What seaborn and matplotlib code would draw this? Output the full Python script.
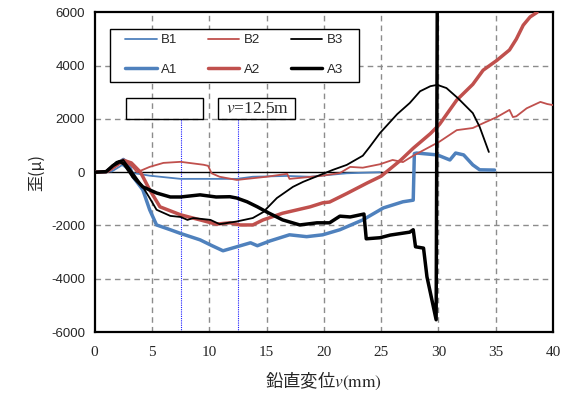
import matplotlib
matplotlib.use("Agg")
import matplotlib.pyplot as plt
import seaborn as sns
import pandas as pd
from matplotlib.patches import Rectangle

# ---------------- data ----------------
B1_x = [0, 1.5, 2.4, 3.35, 4.8, 7.5, 10.9, 12.4, 13.8, 16.8, 18.8, 20.5, 22.0, 24.9]
B1_y = [0, 30, 270, -30, -130, -250, -250, -250, -170, -140, -170, -100, -40, 0]

A1_x = [0, 1.0, 1.8, 2.5, 3.0, 3.35, 4.2, 4.8, 5.4, 6.6, 7.5, 9.2, 10.2, 11.2, 12.4,
        13.6, 14.2, 15.3, 17.0, 18.5, 19.9, 21.4, 23.4, 25.2, 26.9, 27.8, 27.9, 28.1,
        29.9, 31.0, 31.5, 32.2, 33.0, 33.6, 34.9]
A1_y = [0, 20, 250, 480, 300, -175, -660, -1410, -1980, -2160, -2300, -2540, -2750,
        -2950, -2800, -2650, -2760, -2580, -2350, -2420, -2350, -2160, -1790, -1340,
        -1110, -1050, 700, 720, 650, 460, 720, 650, 275, 90, 80]

B2_x = [0, 1.2, 2.0, 2.5, 3.2, 3.7, 4.8, 6.0, 7.5, 9.5, 9.9, 10.2, 10.9, 12.4, 15.0,
        16.8, 17.0, 19.7, 21.4, 22.3, 23.4, 24.9, 26.0, 26.9, 27.8, 30.1, 31.6, 33.0,
        33.9, 35.1, 36.2, 36.5, 36.8, 37.7, 38.9, 39.5, 40.0]
B2_y = [0, 20, 250, 400, 250, 0, 200, 350, 390, 280, 240, -40, -170, -290, -170,
        -60, -250, -140, -30, 200, 170, 300, 460, 380, 620, 1150, 1580, 1660,
        1840, 2070, 2340, 2070, 2100, 2400, 2640, 2560, 2520]

A2_x = [0, 1.0, 1.8, 2.5, 3.2, 4.0, 4.8, 5.7, 7.5, 9.2, 10.6, 11.8, 12.7, 13.8, 14.7,
        16.4, 18.8, 19.9, 20.5, 22.0, 23.8, 25.0, 26.7, 27.8, 29.3, 30.1, 31.6, 33.0,
        33.9, 35.1, 36.2, 36.8, 37.4, 38.0, 38.6]
A2_y = [0, 20, 250, 450, 350, 0, -660, -1300, -1600, -1790, -1950, -1900, -1980, -1980,
        -1790, -1540, -1300, -1150, -1120, -800, -400, -150, 450, 900, 1450, 1800, 2710,
        3300, 3830, 4200, 4590, 5000, 5520, 5830, 6000]

B3_x = [0, 1.0, 1.9, 2.5, 3.35, 4.2, 4.8, 5.4, 6.6, 7.5, 8.1, 8.6, 10.1, 10.9, 12.4,
        13.8, 14.7, 15.9, 17.3, 18.2, 19.7, 20.8, 22.0, 23.4, 24.0, 24.9, 26.4, 27.5,
        28.4, 29.3, 29.9, 30.7, 31.7, 33.0, 33.6, 34.4]
B3_y = [0, 30, 390, 460, -30, -550, -970, -1410, -1640, -1680, -1790, -1720, -1790,
        -1950, -1850, -1720, -1500, -970, -550, -360, -100, 90, 275, 620, 950, 1470,
        2180, 2600, 3040, 3230, 3280, 3160, 2780, 2220, 1700, 760]

A3_x = [0, 1.0, 1.6, 2.2, 2.6, 3.35, 4.2, 5.4, 6.6, 7.5, 9.2, 10.6, 11.8, 12.4, 13.3,
        14.2, 15.0, 16.4, 17.9, 19.4, 20.5, 21.4, 22.3, 23.5, 23.7, 24.9, 25.8, 27.5,
        27.8, 28.0, 28.7, 29.0, 29.3, 29.8, 29.9]
A3_y = [0, 20, 250, 400, 300, -170, -550, -780, -930, -930, -850, -930, -920, -970,
        -1110, -1300, -1490, -1790, -1980, -1900, -1900, -1650, -1680, -1570, -2500,
        -2460, -2360, -2250, -2160, -2800, -2850, -3930, -4530, -5540, 6500]

x_ticks = [0, 5, 10, 15, 20, 25, 30, 35, 40]
y_ticks = [-6000, -4000, -2000, 0, 2000, 4000, 6000]
marker_lines = [7.5, 12.5]
box_label = "$v$=12.5m"

series = [
    ("B1", B1_x, B1_y, "#4F81BD", 1.3),
    ("A1", A1_x, A1_y, "#4F81BD", 2.5),
    ("B2", B2_x, B2_y, "#C0504D", 1.3),
    ("A2", A2_x, A2_y, "#C0504D", 2.5),
    ("B3", B3_x, B3_y, "#000000", 1.3),
    ("A3", A3_x, A3_y, "#000000", 2.5),
]

# ---------------- figure ----------------
sns.set_style("white")
plt.rcParams["mathtext.fontset"] = "stix"

fig = plt.figure(figsize=(5.71, 3.98), dpi=100)
ax = fig.add_axes([0.1658, 0.1658, 0.8027, 0.803])

ax.set_xlim(0, 40)
ax.set_ylim(-6000, 6000)

# grid
for xv in x_ticks[1:-1]:
    ax.axvline(xv, color="#8c8c8c", lw=1.0, ls=(0, (4, 3)), zorder=1)
for yv in y_ticks[1:-1]:
    if yv != 0:
        ax.axhline(yv, color="#8c8c8c", lw=1.0, ls=(0, (4, 3)), zorder=1)
ax.axhline(0, color="black", lw=1.0, zorder=1.5)

# blue dotted marker lines
for xv in marker_lines:
    ax.plot([xv, xv], [-6000, 2000], color="#1a1aff", lw=0.8, ls=(0, (1, 1)), zorder=1.2)

for name, xs, ys, col, lw in series:
    df = pd.DataFrame({"x": xs, "y": ys})
    sns.lineplot(data=df, x="x", y="y", ax=ax, color=col, lw=lw, sort=False,
                 estimator=None, label=name, zorder=3)

# small boxes
ax.add_patch(Rectangle((2.73, 2000), 6.72, 770, fill=False, ec="black", lw=1.0, zorder=4))
ax.add_patch(Rectangle((10.76, 2000), 6.72, 770, fill=False, ec="black", lw=1.0, zorder=4))
ax.text(11.45, 2370, box_label, fontsize=12.5, family="Liberation Serif",
        va="center", ha="left", zorder=5)

# legend frame + legend
ax.add_patch(Rectangle((0.033, 0.782), 0.544, 0.166, transform=ax.transAxes,
                       facecolor="white", edgecolor="black", lw=1.0, zorder=5.5))
leg = ax.legend(ncol=3, loc="upper left", bbox_to_anchor=(0.066, 0.6, 0.476, 0.332),
                mode="expand", frameon=False,
                prop={"family": "Liberation Sans", "size": 9.5}, handlelength=2.4,
                handletextpad=0.35, labelspacing=1.3, borderpad=0, columnspacing=1.0,
                borderaxespad=0)
leg.set_zorder(6)

# ticks
ax.set_xticks(x_ticks)
ax.set_yticks(y_ticks)
ax.set_xticklabels([str(v) for v in x_ticks], family="Liberation Serif", fontsize=11)
ax.set_yticklabels([str(v) for v in y_ticks], family="Liberation Sans", fontsize=9.5)
ax.tick_params(axis="both", direction="out", length=4, width=1, color="black", pad=3)
ax.tick_params(axis="x", pad=6)

for sp in ax.spines.values():
    sp.set_visible(True)
    sp.set_color("black")
    sp.set_linewidth(1.6)

ax.set_xlabel("鉛直変位$v\\mathrm{(mm)}$", family=["Noto Sans CJK JP", "DejaVu Sans"],
              fontsize=12.5, labelpad=8)
ax.set_ylabel("歪(μ)", family=["Noto Sans CJK JP", "DejaVu Sans"], fontsize=11.5, labelpad=4)

fig.savefig("out.png", dpi=100)
